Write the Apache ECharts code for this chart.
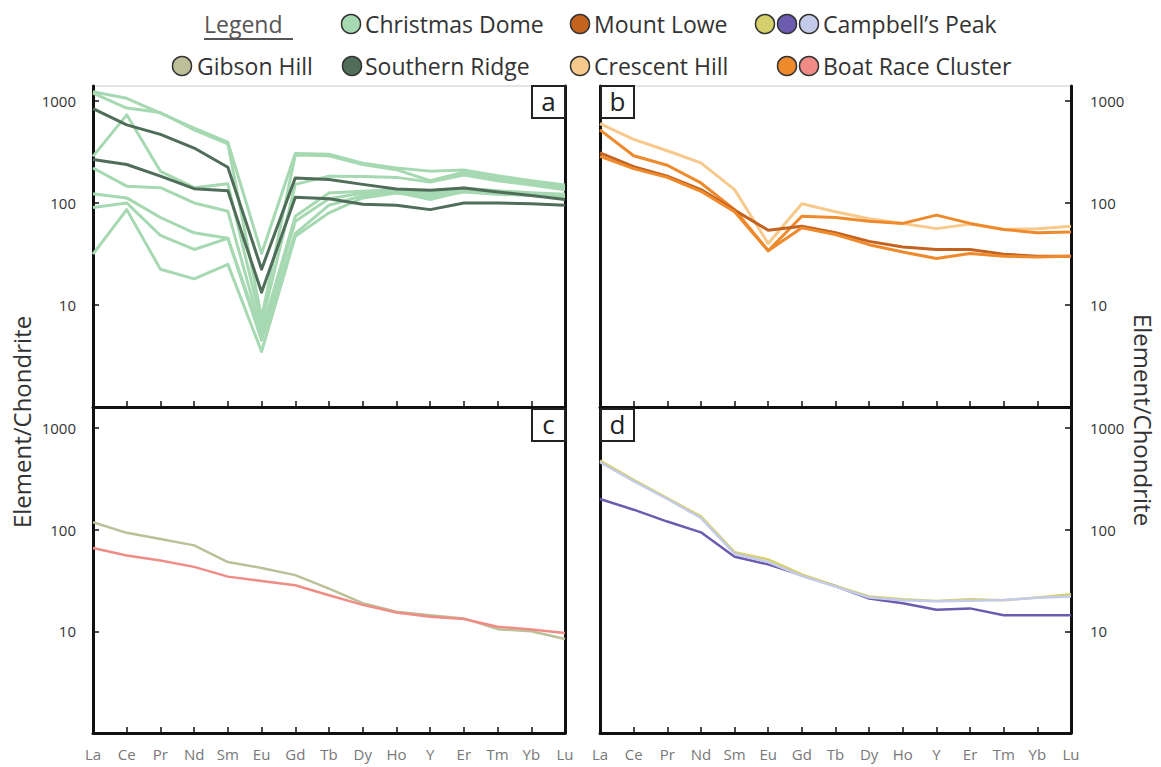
<!DOCTYPE html>
<html>
<head>
<meta charset="utf-8">
<title>REE chondrite-normalised patterns</title>
<script src="https://cdn.jsdelivr.net/npm/echarts@6/dist/echarts.min.js"></script>
<style>
  html, body { margin: 0; padding: 0; background: #fff; }
  #chart { width: 1161px; height: 767px; }
</style>
</head>
<body>
<div id="chart"></div>
<script>
// Rare earth elements (plus Y), in plotting order
const elements = ['La','Ce','Pr','Nd','Sm','Eu','Gd','Tb','Dy','Ho','Y','Er','Tm','Yb','Lu'];
const yTickValues = [10, 100, 1000];

// Panel a: Christmas Dome samples
const christmasDome1 = [1230, 1060, 760, 540, 395, 32, 305, 300, 245, 220, 205, 210, 185, 165, 150];
const christmasDome2 = [1190, 850, 770, 520, 380, 7.5, 295, 290, 238, 212, 165, 200, 175, 158, 142];
const christmasDome3 = [286, 730, 204, 141, 154, 6.5, 152, 183, 182, 178, 160, 188, 165, 150, 135];
const christmasDome4 = [220, 146, 141, 100, 83, 5.4, 74, 125, 130, 135, 125, 140, 132, 126, 122];
const christmasDome5 = [123, 112, 72, 51, 45, 5, 66, 110, 125, 130, 118, 136, 128, 122, 118];
const christmasDome6 = [90, 100, 48, 35, 45, 4.5, 50, 95, 118, 128, 108, 130, 125, 120, 115];
const christmasDome7 = [31.5, 86, 22.4, 18, 25, 3.5, 47, 80, 112, 125, 113, 128, 122, 118, 112];
// Panel a: Southern Ridge samples
const southernRidge1 = [840, 583, 470, 345, 224, 22.4, 176, 170, 152, 137, 133, 140, 128, 118, 108];
const southernRidge2 = [266, 238, 183, 138, 132, 13.3, 114, 110, 97, 95, 86, 100, 100, 98, 95];

// Panel b
const crescentHill = [600, 420, 325, 247, 135, 40, 98, 82, 70, 63, 56, 62, 55, 56, 59];
const mountLowe = [309, 227, 183, 135, 85, 54, 59, 51, 42, 37, 35, 35, 31.5, 30, 30];
const boatRaceOrange1 = [520, 290, 234, 157, 86, 34, 74, 72, 66, 63, 76, 63, 55, 51, 52];
const boatRaceOrange2 = [286, 217, 178, 130, 82, 34, 57, 49, 39, 33, 28.6, 32, 30, 29.5, 30];

// Panel c
const gibsonHill = [118, 93, 81, 70, 48, 42, 35.7, 26.3, 18.9, 15.6, 14.4, 13.4, 10.5, 10, 8.4];
const boatRacePink = [66, 55.7, 49.8, 43, 34.5, 31.2, 28.4, 22.6, 18.2, 15.3, 13.9, 13.2, 11.1, 10.4, 9.6];

// Panel d: Campbell's Peak samples
const campbellPurple = [200, 157, 120, 94, 54, 45.5, 35.5, 27.9, 21, 18.9, 16.3, 16.8, 14.4, 14.4, 14.4];
const campbellYellow = [476, 308, 204, 135, 60, 51, 36.3, 27.9, 22, 20.7, 19.9, 20.7, 20.2, 21.5, 23.2];
const campbellLavender = [460, 300, 200, 130, 58, 48, 35, 27.5, 21.5, 20.2, 19.8, 20, 20.3, 21.4, 22];

const C = {
  christmas: '#a6d9b2',
  southern: '#4f6d59',
  mountLowe: '#c4631f',
  crescent: '#f8c98c',
  boatOrange: '#ef8a2c',
  boatPink: '#f08c86',
  gibson: '#bcbf97',
  cpYellow: '#d6d06c',
  cpPurple: '#6b5cb0',
  cpLavender: '#c3cbe9'
};

const FONT = '"Open Sans", "Noto Sans", sans-serif';
const AXIS_COLOR = '#111';

// Four panels: a (top-left), b (top-right), c (bottom-left), d (bottom-right)
const panels = [
  { left: 93, top: 86, width: 472, height: 321, max: 1400, labelSide: 'left', xLabels: false, border: true },
  { left: 600, top: 86, width: 471, height: 321, max: 1400, labelSide: 'right', xLabels: false, border: true },
  { left: 93, top: 408, width: 472, height: 325, max: 1570, labelSide: 'left', xLabels: true, border: false },
  { left: 600, top: 408, width: 471, height: 325, max: 1570, labelSide: 'right', xLabels: true, border: false }
];

const grid = panels.map(p => ({
  left: p.left, top: p.top, width: p.width, height: p.height,
  show: p.border, borderColor: '#c8c8c8', borderWidth: 1,
  outerBoundsMode: 'none'
}));

const xAxis = panels.map((p, i) => ({
  type: 'category',
  gridIndex: i,
  data: elements,
  boundaryGap: false,
  axisLine: { show: true, lineStyle: { color: AXIS_COLOR, width: 3 } },
  axisTick: { show: true, inside: true, length: 6, interval: 0, lineStyle: { color: AXIS_COLOR, width: 1.5 } },
  axisLabel: { show: p.xLabels, interval: 0, color: '#777', fontSize: 15, fontFamily: FONT, margin: 13 },
  splitLine: { show: false }
}));

const yAxis = [];
panels.forEach((p, i) => {
  ['left', 'right'].forEach(side => {
    const labelled = side === p.labelSide;
    yAxis.push({
      type: 'log',
      logBase: 10,
      gridIndex: i,
      position: side,
      min: 1,
      max: p.max,
      axisLine: { show: true, onZero: false, lineStyle: { color: AXIS_COLOR, width: 3 } },
      axisTick: { show: labelled, inside: true, length: 6, customValues: yTickValues, lineStyle: { color: AXIS_COLOR, width: 1.5 } },
      axisLabel: {
        show: labelled, customValues: yTickValues, formatter: v => String(Math.round(v)),
        color: '#333', fontSize: 15, fontFamily: FONT, margin: side === 'left' ? 17 : 19
      },
      splitLine: { show: false }
    });
  });
});

// y axis index of the labelled axis in each panel
const yIdx = [0, 3, 4, 7];

function line(name, data, panel, color, width) {
  return {
    name, type: 'line', data,
    xAxisIndex: panel, yAxisIndex: yIdx[panel],
    symbol: 'none', silent: true,
    lineStyle: { color, width, join: 'round' },
    itemStyle: { color }
  };
}

const series = [
  line('Christmas Dome', christmasDome1, 0, C.christmas, 3),
  line('Christmas Dome', christmasDome2, 0, C.christmas, 3),
  line('Christmas Dome', christmasDome3, 0, C.christmas, 3),
  line('Christmas Dome', christmasDome4, 0, C.christmas, 3),
  line('Christmas Dome', christmasDome5, 0, C.christmas, 3),
  line('Christmas Dome', christmasDome6, 0, C.christmas, 3),
  line('Christmas Dome', christmasDome7, 0, C.christmas, 3),
  line('Southern Ridge', southernRidge1, 0, C.southern, 3),
  line('Southern Ridge', southernRidge2, 0, C.southern, 3),

  line('Crescent Hill', crescentHill, 1, C.crescent, 3),
  line('Boat Race Cluster', boatRaceOrange1, 1, C.boatOrange, 3),
  line('Mount Lowe', mountLowe, 1, C.mountLowe, 3),
  line('Boat Race Cluster', boatRaceOrange2, 1, C.boatOrange, 3),

  line('Gibson Hill', gibsonHill, 2, C.gibson, 2.5),
  line('Boat Race Cluster', boatRacePink, 2, C.boatPink, 2.5),

  line('Campbell\u2019s Peak', campbellPurple, 3, C.cpPurple, 2.5),
  line('Campbell\u2019s Peak', campbellYellow, 3, C.cpYellow, 2.5),
  line('Campbell\u2019s Peak', campbellLavender, 3, C.cpLavender, 2.5)
];

// Legend drawn as circles + labels in two rows
const LEGEND_FONT = '23px ' + FONT;
function dot(cx, cy, fill) {
  return { type: 'circle', shape: { cx, cy, r: 9.5 }, style: { fill, stroke: '#333', lineWidth: 1.5 }, z: 100 };
}
function label(x, y, text, fill) {
  return { type: 'text', x, y, style: { text, font: LEGEND_FONT, fill: fill || '#333', textAlign: 'left', textVerticalAlign: 'middle' }, z: 100 };
}
const row1 = 24, row2 = 66;
const legendElements = [
  label(204, row1, 'Legend', '#555'),
  { type: 'line', shape: { x1: 204, y1: 39, x2: 293, y2: 39 }, style: { stroke: '#555', lineWidth: 2 }, z: 100 },
  dot(351, row1, C.christmas), label(365, row1, 'Christmas Dome'),
  dot(580, row1, C.mountLowe), label(594, row1, 'Mount Lowe'),
  dot(765, row1, C.cpYellow), dot(787, row1, C.cpPurple), dot(809, row1, C.cpLavender),
  label(823, row1, 'Campbell\u2019s Peak'),
  dot(182, row2, C.gibson), label(197, row2, 'Gibson Hill'),
  dot(352, row2, C.southern), label(365, row2, 'Southern Ridge'),
  dot(580, row2, C.crescent), label(594, row2, 'Crescent Hill'),
  dot(787, row2, C.boatOrange), dot(809, row2, C.boatPink), label(823, row2, 'Boat Race Cluster')
];

// Panel letter boxes
function letterBox(x, y, letter) {
  return [
    { type: 'rect', shape: { x, y, width: 33, height: 32 }, style: { fill: '#fff', stroke: '#222', lineWidth: 2 }, z: 100 },
    { type: 'text', x: x + 16.5, y: y + 15, style: { text: letter, font: '26px ' + FONT, fill: '#222', textAlign: 'center', textVerticalAlign: 'middle' }, z: 101 }
  ];
}
const boxes = [].concat(
  letterBox(532, 86, 'a'),
  letterBox(601, 86, 'b'),
  letterBox(532, 409, 'c'),
  letterBox(601, 409, 'd')
);

// Vertical axis titles on both sides
const titles = [
  { type: 'text', x: 21, y: 422, rotation: Math.PI / 2,
    style: { text: 'Element/Chondrite', font: '24px ' + FONT, fill: '#333', textAlign: 'center', textVerticalAlign: 'middle' }, z: 100 },
  { type: 'text', x: 1143, y: 420, rotation: -Math.PI / 2,
    style: { text: 'Element/Chondrite', font: '24px ' + FONT, fill: '#333', textAlign: 'center', textVerticalAlign: 'middle' }, z: 100 }
];

const chart = echarts.init(document.getElementById('chart'), null, { renderer: 'svg' });
chart.setOption({
  animation: false,
  backgroundColor: '#fff',
  grid, xAxis, yAxis, series,
  graphic: { elements: legendElements.concat(boxes, titles) }
});
</script>
</body>
</html>
